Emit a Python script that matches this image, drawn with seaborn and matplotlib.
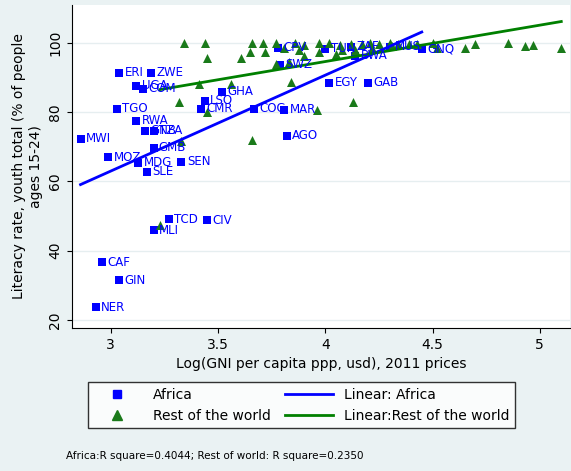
import matplotlib.pyplot as plt
import seaborn as sns
import numpy as np
import pandas as pd
from matplotlib.lines import Line2D

# Africa
afr_code = ["ERI", "ZWE", "UGA", "COM", "TGO", "RWA", "GNB", "TZA", "MWI", "GMB",
            "MOZ", "MDG", "SLE", "SEN", "LSO", "CMR", "GHA", "COG", "MAR", "AGO",
            "EGY", "GAB", "BWA", "GNQ", "SWZ", "CPV", "TCD", "CIV", "MLI", "CAF",
            "GIN", "NER", "TUN", "ZAF", "MUS"]
afr_x = [3.04, 3.19, 3.12, 3.15, 3.03, 3.12, 3.16, 3.20, 2.86, 3.20,
         2.99, 3.13, 3.17, 3.33, 3.44, 3.42, 3.52, 3.67, 3.81, 3.82,
         4.02, 4.20, 4.14, 4.45, 3.79, 3.78, 3.27, 3.45, 3.20, 2.96,
         3.04, 2.93, 4.00, 4.12, 4.30]
afr_y = [91.3, 91.3, 87.6, 86.7, 80.9, 77.5, 74.6, 74.6, 72.3, 69.7,
         67.0, 65.3, 62.7, 65.6, 83.2, 80.9, 85.8, 80.9, 80.6, 73.1,
         88.4, 88.4, 96.2, 98.3, 93.6, 98.6, 49.1, 48.8, 45.9, 36.7,
         31.5, 23.7, 98.3, 98.8, 98.8]

# Rest of the world
row_x = [3.34, 3.44, 3.45, 3.32, 3.41, 3.56, 3.45, 3.33, 3.66, 3.23,
         3.61, 3.65, 3.66, 3.71, 3.77, 3.86, 3.90, 3.97, 4.02, 4.07,
         4.12, 4.17, 4.21, 4.25, 4.30, 4.34, 4.39, 4.43, 4.50, 4.52,
         4.65, 4.70, 4.85, 4.93, 4.97, 5.10, 4.13, 3.96, 3.84, 3.77,
         3.83, 3.90, 3.97, 4.05, 4.08, 4.14, 4.22, 4.31, 3.72, 3.81, 3.88]
row_y = [100, 100, 95.7, 83.0, 88.0, 88.0, 80.0, 71.7, 72.0, 47.5,
         95.7, 97.4, 100, 100, 100, 100, 99.4, 100, 100, 99.4,
         99.7, 99.7, 100, 99.7, 100, 99.7, 99.7, 99.7, 100, 98.6,
         98.6, 99.7, 100, 99.1, 99.4, 98.6, 83.0, 80.6, 88.7, 93.9,
         94.5, 96.2, 97.4, 96.8, 97.9, 97.9, 98.6, 99.1, 97.4, 98.6, 97.9]

bg = "#EAF2F3"
fig = plt.figure(figsize=(5.71, 4.71), dpi=100, facecolor=bg)
ax = fig.add_axes([0.126, 0.304, 0.872, 0.686])
ax.set_facecolor("white")

sns.regplot(x=afr_x, y=afr_y, ci=None, ax=ax, marker="s", color="blue",
            scatter_kws={"s": 36, "alpha": 1, "linewidths": 0}, line_kws={"lw": 2})
sns.regplot(x=row_x, y=row_y, ci=None, ax=ax, marker="^", color="green",
            scatter_kws={"s": 42, "alpha": 1, "linewidths": 0, "color": "#1a7a1a"},
            line_kws={"lw": 2, "color": "#008000"})
for c, x, y in zip(afr_code, afr_x, afr_y):
    ax.text(x + 0.025, y, c, color="blue", fontsize=8.5, va="center")

ax.set_xlim(2.82, 5.14)
ax.set_ylim(17.7, 111)
ax.set_xticks([3, 3.5, 4, 4.5, 5])
ax.set_xticklabels(["3", "3.5", "4", "4.5", "5"])
ax.set_yticks([20, 40, 60, 80, 100])
ax.tick_params(axis="y", labelrotation=90)
for t in ax.get_yticklabels():
    t.set_va("center")
ax.grid(axis="y", color="#E6EEF0", lw=1)
ax.set_axisbelow(True)
for s in ["top", "right"]:
    ax.spines[s].set_visible(False)
ax.set_xlabel("Log(GNI per capita ppp, usd), 2011 prices", fontsize=10)
ax.set_ylabel("Literacy rate, youth total (% of people\nages 15-24)", fontsize=10)

# legend
h = [Line2D([], [], marker="s", color="blue", ls="", ms=6),
     Line2D([], [], color="blue", lw=2),
     Line2D([], [], marker="^", color="#1a7a1a", ls="", ms=7),
     Line2D([], [], color="#008000", lw=2)]
lab = ["Africa", "Linear: Africa", "Rest of the world", "Linear:Rest of the world"]
fig.legend([h[0], h[2], h[1], h[3]], [lab[0], lab[2], lab[1], lab[3]], ncol=2,
           loc="center", bbox_to_anchor=(0.528, 0.14), fontsize=10, frameon=True,
           fancybox=False, edgecolor="black", columnspacing=1.0, handlelength=3.5)
fig.text(0.115, 0.025, "Africa:R square=0.4044; Rest of world: R square=0.2350", fontsize=7.5)

fig.savefig("out.png", dpi=100, facecolor=bg)
